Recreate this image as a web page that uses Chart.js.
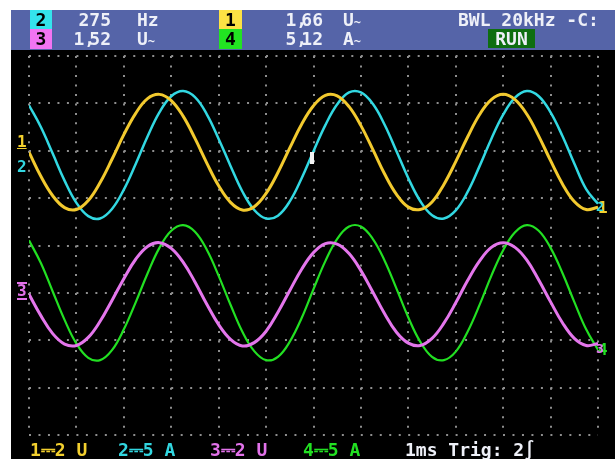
<!DOCTYPE html>
<html>
<head>
<meta charset="utf-8">
<script src="https://cdn.jsdelivr.net/npm/chart.js@4.4.0/dist/chart.umd.min.js"></script>
<style>
  body { margin: 0; background: #fff; }
  #wrap { position: relative; width: 615px; height: 459px; overflow: hidden; }
  #scope { position: absolute; left: 0; top: 0; }
  #band { position: absolute; left: 11px; top: 10px; width: 604px; height: 40px; background: #5564a8; }
  .t { position: absolute; font-family: "DejaVu Sans Mono", monospace; font-weight: bold; font-size: 18px;
       line-height: 20px; height: 20px; white-space: nowrap; color: #eef0f8; }
  .box { color: #000; text-align: center; }
  .r { text-align: right; }
  .c { display: inline-block; width: 5px; }
  .s { font-size: 12px; }
  .f { top: 440px; line-height: 19px; height: 19px; }
  .m { font-size: 16px; line-height: 16px; height: 16px; }
</style>
</head>
<body>
<div id="wrap">
  <canvas id="scope" width="615" height="459"></canvas>
  <div id="band"></div>

  <div class="t box" style="left:30px;top:10px;width:22px;height:19px;background:#34e4ec;">2</div>
  <div class="t box" style="left:30px;top:29px;width:22px;background:#f274f2;">3</div>
  <div class="t r" style="left:70px;top:10px;width:41px;">275</div>
  <div class="t" style="left:137px;top:10px;">Hz</div>
  <div class="t r" style="left:70px;top:29px;width:41px;">1<span class="c">,</span>52</div>
  <div class="t" style="left:137px;top:29px;">U<span class="s">~</span></div>

  <div class="t box" style="left:219px;top:10px;width:23px;height:19px;background:#fde244;">1</div>
  <div class="t box" style="left:219px;top:29px;width:23px;background:#22e422;">4</div>
  <div class="t r" style="left:280px;top:10px;width:43px;">1<span class="c">,</span>66</div>
  <div class="t r" style="left:280px;top:29px;width:43px;">5<span class="c">,</span>12</div>
  <div class="t" style="left:343px;top:10px;">U<span class="s">~</span></div>
  <div class="t" style="left:343px;top:29px;">A<span class="s">~</span></div>

  <div class="t" style="left:458px;top:10px;">BWL 20kHz -C:</div>
  <div class="t box" style="left:488px;top:29px;width:47px;height:19px;background:#0e6e10;color:#eef0f8;">RUN</div>

  <div class="t f" style="left:30px;color:#f2cf2e;">1⎓2 U</div>
  <div class="t f" style="left:118px;color:#32d6e0;">2⎓5 A</div>
  <div class="t f" style="left:210px;color:#e272ea;">3⎓2 U</div>
  <div class="t f" style="left:303px;color:#22e022;">4⎓5 A</div>
  <div class="t f" style="left:405px;">1ms Trig: 2∫</div>

  <div class="t m" style="left:17px;top:134px;color:#f2cf2e;text-decoration:underline;">1</div>
  <div class="t m" style="left:17px;top:159px;color:#32d6e0;">2</div>
  <div class="t m" style="left:17px;top:282px;color:#e272ea;border-top:2px solid #e272ea;border-bottom:2px solid #e272ea;line-height:14px;height:14px;">3</div>
  <div class="t m" style="left:598px;top:200px;color:#f2cf2e;">1</div>
  <div class="t m" style="left:596px;top:199px;color:#32d6e0;font-size:13px;">2</div>
  <div class="t m" style="left:598px;top:342px;color:#22e022;">4</div>
  <div class="t m" style="left:596px;top:341px;color:#e272ea;font-size:13px;">3</div>
  <div style="position:absolute;left:310px;top:152px;width:4px;height:12px;background:#f4f4f4;"></div>
</div>

<script>
// time axis, ms (12 divisions of 1 ms)
const timeMs = [0, 0.25, 0.5, 0.75, 1, 1.25, 1.5, 1.75, 2, 2.25, 2.5, 2.75, 3, 3.25, 3.5, 3.75,
  4, 4.25, 4.5, 4.75, 5, 5.25, 5.5, 5.75, 6, 6.25, 6.5, 6.75, 7, 7.25, 7.5, 7.75,
  8, 8.25, 8.5, 8.75, 9, 9.25, 9.5, 9.75, 10, 10.25, 10.5, 10.75, 11, 11.25, 11.5, 11.75, 12];

// trace positions in screen divisions (0 = centre line)
const ch1 = [1.97, 1.46, 1.05, 0.80, 0.76, 0.95, 1.33, 1.82, 2.34, 2.79, 3.10, 3.19, 3.06, 2.73, 2.26, 1.74,
  1.26, 0.91, 0.75, 0.82, 1.10, 1.54, 2.06, 2.56, 2.95, 3.17, 3.16, 2.93, 2.53, 2.03, 1.51, 1.08,
  0.81, 0.76, 0.92, 1.29, 1.77, 2.29, 2.76, 3.08, 3.19, 3.08, 2.77, 2.31, 1.79, 1.30, 0.93, 0.76, 0.81];
const ch2 = [2.96, 2.50, 1.94, 1.37, 0.90, 0.62, 0.57, 0.77, 1.18, 1.72, 2.30, 2.81, 3.15, 3.26, 3.13, 2.77,
  2.25, 1.68, 1.14, 0.75, 0.57, 0.63, 0.93, 1.42, 1.99, 2.54, 2.98, 3.23, 3.23, 2.99, 2.55, 1.99,
  1.42, 0.94, 0.64, 0.57, 0.74, 1.13, 1.67, 2.25, 2.76, 3.12, 3.26, 3.15, 2.81, 2.31, 1.73, 1.19, 0.88];
const ch3 = [-1.03, -1.48, -1.86, -2.08, -2.11, -1.94, -1.60, -1.16, -0.70, -0.29, -0.02, 0.06, -0.06, -0.35, -0.77, -1.24,
  -1.67, -1.98, -2.12, -2.05, -1.81, -1.41, -0.95, -0.50, -0.15, 0.04, 0.03, -0.17, -0.53, -0.98, -1.44, -1.83,
  -2.06, -2.11, -1.96, -1.64, -1.21, -0.74, -0.33, -0.04, 0.06, -0.04, -0.31, -0.73, -1.19, -1.63, -1.96, -2.11, -2.07];
const ch4 = [0.11, -0.37, -0.97, -1.57, -2.07, -2.37, -2.42, -2.21, -1.77, -1.20, -0.59, -0.05, 0.31, 0.43, 0.29, -0.09,
  -0.64, -1.25, -1.82, -2.23, -2.42, -2.35, -2.03, -1.53, -0.92, -0.33, 0.14, 0.40, 0.40, 0.14, -0.32, -0.91,
  -1.52, -2.03, -2.35, -2.42, -2.24, -1.82, -1.26, -0.64, -0.10, 0.28, 0.43, 0.31, -0.05, -0.58, -1.19, -1.77, -2.20];

const traceColors = ['#f2c92e', '#32d8e2', '#e476ec', '#22e022'];

const screenBg = {
  id: 'screenBg',
  beforeDraw(chart) {
    const ctx = chart.ctx;
    ctx.save();
    ctx.fillStyle = '#ffffff';
    ctx.fillRect(0, 0, chart.width, chart.height);
    ctx.fillStyle = '#000000';
    ctx.fillRect(11, 50, chart.width - 11, chart.height - 50);
    ctx.restore();
  }
};

function trace(values, color, width) {
  return {
    data: values.map((v, i) => ({ x: timeMs[i], y: v })),
    borderColor: color,
    borderWidth: width,
    pointRadius: 0,
    tension: 0.4,
    fill: false
  };
}

new Chart(document.getElementById('scope').getContext('2d'), {
  type: 'line',
  data: {
    datasets: [
      trace(ch1, traceColors[0], 3),
      trace(ch2, traceColors[1], 2.5),
      trace(ch3, traceColors[2], 3),
      trace(ch4, traceColors[3], 2.2)
    ]
  },
  options: {
    responsive: false,
    animation: false,
    layout: { padding: { left: 29, right: 17, top: 56, bottom: 24 } },
    plugins: { legend: { display: false }, tooltip: { enabled: false } },
    scales: {
      x: {
        type: 'linear', min: 0, max: 12,
        ticks: { display: false, stepSize: 1 },
        grid: { color: '#8e8e8e', lineWidth: 2, drawTicks: false },
        border: { display: false, dash: [2, 7.48] }
      },
      y: {
        min: -4, max: 4,
        ticks: { display: false, stepSize: 1 },
        grid: { color: '#8e8e8e', lineWidth: 2, drawTicks: false },
        border: { display: false, dash: [2, 7.48] }
      }
    }
  },
  plugins: [screenBg]
});
</script>
</body>
</html>
